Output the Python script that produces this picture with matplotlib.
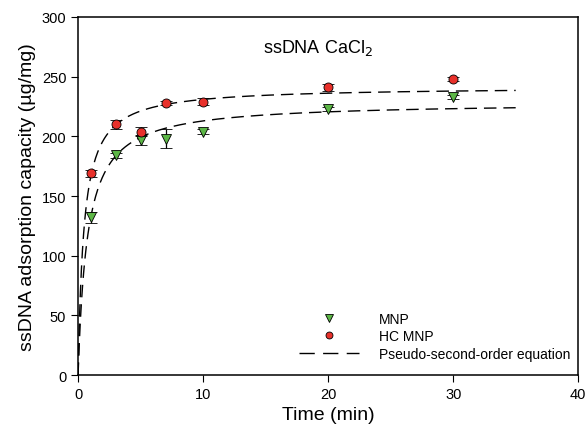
import numpy as np
import matplotlib
matplotlib.use('Agg')
from matplotlib import pyplot as plt
from matplotlib.lines import Line2D

plt.rcParams['font.family'] = ['Liberation Sans', 'DejaVu Sans']

# measured data
t = [1, 3, 5, 7, 10, 20, 30]
mnp = [132, 184, 197, 198, 204, 223, 233]
mnp_err = [5, 2, 4, 8, 2, 2, 2]
hc = [169, 210, 204, 228, 229, 241, 248]
hc_err = [3, 4, 4, 2, 3, 3, 2]

# pseudo-second-order fit parameters (qe, k*qe)
mnp_qe, mnp_a = 228.7, 1.35
hc_qe, hc_a = 241.6, 2.17

fig = plt.figure(figsize=(5.87, 4.39), dpi=100)
ax = fig.add_axes([0.133, 0.1435, 0.852, 0.8155])

tt = np.linspace(0, 35, 400)
ax.plot(tt, mnp_qe * mnp_a * tt / (1 + mnp_a * tt), color='black', lw=1,
        dashes=(9, 5), zorder=2)
ax.plot(tt, hc_qe * hc_a * tt / (1 + hc_a * tt), color='black', lw=1,
        dashes=(9, 5), zorder=2)

ax.errorbar(t, mnp, yerr=mnp_err, fmt='v', ms=7, mfc='#5cb646', mec='black',
            mew=0.6, ecolor='black', elinewidth=0.9, capsize=4, capthick=0.9,
            zorder=3)
ax.errorbar(t, hc, yerr=hc_err, fmt='o', ms=6.5, mfc='#e8302a', mec='black',
            mew=0.6, ecolor='black', elinewidth=0.9, capsize=4, capthick=0.9,
            zorder=4)

ax.set_xlim(0, 40)
ax.set_ylim(0, 300)
ax.set_xticks([0, 10, 20, 30, 40])
ax.set_yticks(range(0, 301, 50))
ax.tick_params(direction='out', length=5, labelsize=10.5)
for s in ax.spines.values():
    s.set_linewidth(1.1)

ax.set_xlabel('Time (min)', fontsize=14)
ax.set_ylabel('ssDNA adsorption capacity (\u00b5g/mg)', fontsize=14)
ax.text(19.2, 275, 'ssDNA CaCl$_2$', fontsize=13, ha='center', va='center')

# legend
handles = [
    Line2D([], [], ls='none', marker='v', ms=5.5, mfc='#5cb646', mec='black', mew=0.6),
    Line2D([], [], ls='none', marker='o', ms=5, mfc='#e8302a', mec='black', mew=0.6),
    Line2D([], [], color='black', lw=1, dashes=(11, 6)),
]
labels = ['MNP', 'HC MNP', 'Pseudo-second-order equation']
ax.legend(handles, labels, loc='lower right', frameon=False, fontsize=10,
          handlelength=4.3, handletextpad=1.45, labelspacing=0.25,
          bbox_to_anchor=(1.01, 0.005))

fig.savefig('out.png', dpi=100)
